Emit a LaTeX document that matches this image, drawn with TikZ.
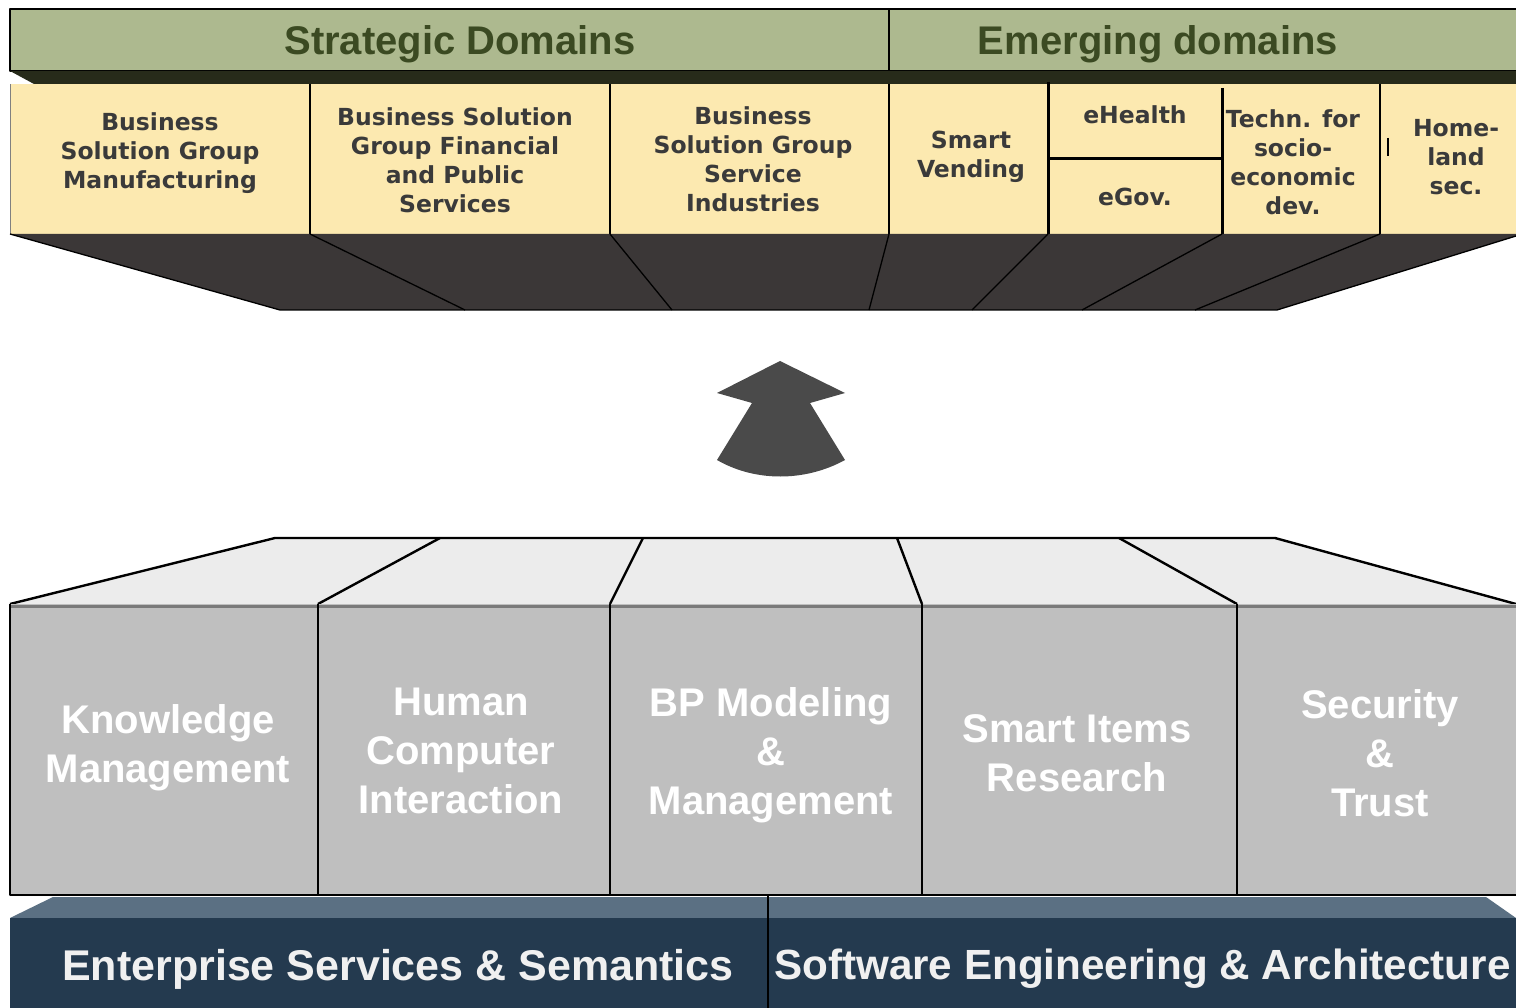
\documentclass[tikz,border=0pt]{standalone}
\usepackage{fontspec}
\setmainfont{Liberation Sans}
\newfontfamily\verd{DejaVu Sans}
\definecolor{hdrgreen}{HTML}{ADB98F}
\definecolor{hdrtext}{HTML}{3B4A22}
\definecolor{ybox}{HTML}{FCE9B0}
\definecolor{ytext}{HTML}{3A3A3A}
\definecolor{darkslab}{HTML}{3B3737}
\definecolor{stripdark}{HTML}{272B1A}
\definecolor{arrowgray}{HTML}{4A4A4A}
\definecolor{topface}{HTML}{ECECEC}
\definecolor{frontface}{HTML}{BFBFBF}
\definecolor{edgegray}{HTML}{7A7A7A}
\definecolor{navy}{HTML}{243A4F}
\definecolor{navytop}{HTML}{5B7083}
\begin{document}
\begin{tikzpicture}[x=1pt,y=-1pt,
  outline/.style={draw=black,line width=2.4pt,line join=round},
  thinline/.style={draw=black,line width=1.5pt},
  thickline/.style={draw=black,line width=3pt},
  htxt/.style={font=\bfseries\fontsize{40}{48}\selectfont,text=hdrtext,inner sep=0pt},
  ytxt/.style={font=\verd\bfseries\fontsize{23.5}{29}\selectfont,text=ytext,align=center,inner sep=0pt},
  gtxt/.style={font=\bfseries\fontsize{40}{49}\selectfont,text=white,align=center,inner sep=0pt},
  ntxt/.style={font=\bfseries\fontsize{43}{50}\selectfont,text=white!94!black,inner sep=0pt}]
\useasboundingbox (0,0) rectangle (1516,1008);
\fill[white] (0,0) rectangle (1516,1008);

% ---------- top header ----------
\fill[hdrgreen] (10,9) rectangle (1516,71);
\draw[outline] (1516,9) -- (10,9) -- (10,71) -- (1516,71);
\draw[thinline] (889,9) -- (889,84);
\fill[stripdark] (10,71) -- (1516,71) -- (1516,84) -- (34,84) -- cycle;
\node[htxt] (strat) at (460,44) {Strategic Domains};
\node[htxt] (emerg) at (1158,44) {Emerging domains};

% ---------- yellow boxes ----------
\fill[ybox] (10,84) rectangle (1516,234);
\draw[draw=gray,line width=1pt] (10,84) -- (10,234);
\foreach \x in {310,610,889,1380}{\draw[thinline] (\x,84) -- (\x,234);}
\draw[thickline] (1048,82) -- (1048,234);
\draw[thickline] (1222,88) -- (1222,234);
\draw[thickline] (1048,159) -- (1222,159);
\draw[draw=black,line width=1.2pt] (1388,138) -- (1388,156);

% ---------- dark slab under yellow ----------
\fill[darkslab] (10,234) -- (1516,234) -- (1516,236) -- (1277,310) -- (280,310) -- cycle;
\draw[draw=black,line width=1.3pt] (10,234) -- (280,310) -- (1277,310) -- (1516,236);
\draw[draw=black,line width=1.3pt] (310,234) -- (465,310);
\draw[draw=black,line width=1.3pt] (610,234) -- (672,310);
\draw[draw=black,line width=1.3pt] (889,234) -- (869,310);
\draw[draw=black,line width=1.3pt] (1048,234) -- (972,310);
\draw[draw=black,line width=1.3pt] (1222,234) -- (1082,310);
\draw[draw=black,line width=1.3pt] (1380,234) -- (1195,310);

\node[ytxt] (bsgm) at (160,153) {Business\\Solution Group\\Manufacturing};
\node[ytxt] (bsgf) at (455,160) {Business Solution\\Group Financial\\and Public\\Services};
\node[ytxt] (bsgs) at (753,159) {Business\\Solution Group\\Service\\Industries};
\node[ytxt] (smv) at (971,157) {Smart\\Vending};
\node[ytxt] (ehl) at (1135,115) {eHealth};
\node[ytxt] (egv) at (1135,197) {eGov.};
\node[ytxt] (tec) at (1293,162) {Techn. for\\socio-\\economic\\dev.};
\node[ytxt] (hom) at (1456,157) {Home-\\land\\sec.};

% ---------- arrow ----------
\fill[arrowgray] (780,361) -- (845,393) -- (810,403) -- (845,460)
  .. controls (805,482) and (755,482) .. (717,460)
  -- (752,403) -- (717,393) -- cycle;

% ---------- lower block: top face ----------
\fill[topface] (275,538) -- (1275,538) -- (1516,604) -- (10,604) -- cycle;
\draw[outline] (10,604) -- (275,538) -- (1275,538) -- (1516,604);
\draw[outline] (440,538) -- (318,604);
\draw[outline] (643,538) -- (610,604);
\draw[outline] (897,538) -- (922,604);
\draw[outline] (1119,538) -- (1237,604);

% ---------- lower block: front faces ----------
\fill[frontface] (10,604) rectangle (1516,895);
\draw[draw=edgegray,line width=3pt] (10,606) -- (1516,606);
\draw[outline] (10,604) -- (10,895) -- (1516,895);
\foreach \x in {318,610,922,1237}{\draw[outline] (\x,604) -- (\x,895);}

\node[gtxt] (km) at (168,748) {Knowledge\\Management};
\node[gtxt] (hci) at (461,751) {Human\\Computer\\Interaction};
\node[gtxt] (bpm) at (771,755) {BP Modeling\\\&\\Management};
\node[gtxt] (sir) at (1077,753) {Smart Items\\Research};
\node[gtxt] (sec) at (1380,753) {Security\\\&\\Trust};

% ---------- base bar ----------
\fill[navytop] (53,897) -- (1486,897) -- (1516,918) -- (10,918) -- cycle;
\fill[navy] (10,918) rectangle (1516,1008);
\draw[draw=black,line width=1.3pt] (768,896) -- (768,1008);
\node[ntxt] (ess) at (398,969) {Enterprise Services \& Semantics};
\node[ntxt,font=\bfseries\fontsize{42.2}{50}\selectfont,anchor=west] (sea) at (774,969) {Software Engineering \& Architecture};
\end{tikzpicture}
\end{document}
